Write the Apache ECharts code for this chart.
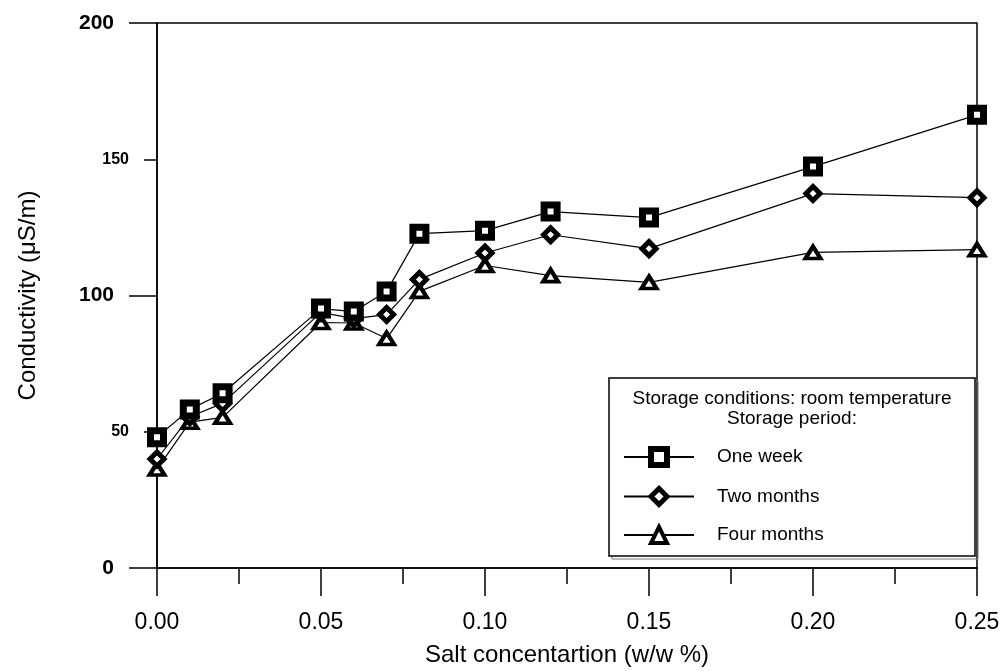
<!DOCTYPE html>
<html>
<head>
<meta charset="utf-8">
<script src="https://cdn.jsdelivr.net/npm/echarts@6/dist/echarts.min.js"></script>
<style>
  html, body { margin: 0; padding: 0; background: #fff; }
  #chart { width: 1003px; height: 671px; }
</style>
</head>
<body>
<div id="chart"></div>
<script>
// salt concentration (w/w %)
const saltConc = [0.00, 0.01, 0.02, 0.05, 0.06, 0.07, 0.08, 0.10, 0.12, 0.15, 0.20, 0.25];
// conductivity (uS/m) per storage period
const oneWeek    = [48.0, 58.2, 64.1, 95.2, 94.1, 101.5, 122.7, 123.8, 130.8, 128.6, 147.3, 166.3];
const twoMonths  = [40.0, 55.5, 60.4, 93.8, 91.5, 93.0, 105.9, 115.6, 122.3, 117.2, 137.4, 135.9];
const fourMonths = [36.3, 53.5, 55.3, 90.1, 89.9, 84.2, 101.5, 111.0, 107.3, 104.8, 115.8, 116.8];
const seriesNames = ['One week', 'Two months', 'Four months'];
const legendBorders = [6, 5, 4];
const yMajorLabels = [0, 100, 200];

const FONT = 'Liberation Sans, Arial, sans-serif';
const chart = echarts.init(document.getElementById('chart'));

function pairs(ys) {
  return saltConc.map((x, i) => [x, ys[i]]);
}

function lineSeries(name, ys, symbol, size, border) {
  return {
    name: name,
    type: 'line',
    data: pairs(ys),
    symbol: symbol,
    symbolSize: size,
    showAllSymbol: true,
    lineStyle: { color: '#000', width: 1.2 },
    itemStyle: { color: '#fff', borderColor: '#000', borderWidth: border },
    emphasis: { disabled: true },
    animation: false
  };
}

const option = {
  backgroundColor: '#fff',
  animation: false,
  textStyle: { fontFamily: FONT, color: '#000' },
  grid: {
    left: 157, right: 26, top: 23, bottom: 103,
    show: true, borderColor: '#000', borderWidth: 1.5,
    outerBoundsMode: 'none'
  },
  xAxis: {
    type: 'value',
    min: 0, max: 0.25, interval: 0.05,
    name: 'Salt concentartion (w/w %)',
    nameLocation: 'middle',
    nameGap: 75,
    nameTextStyle: { fontSize: 24, color: '#000', fontFamily: FONT },
    axisLine: { onZero: false, lineStyle: { color: '#000', width: 1.5 } },
    axisTick: { length: 28, lineStyle: { color: '#000', width: 1.5 } },
    minorTick: { show: true, splitNumber: 2, length: 16, lineStyle: { color: '#000', width: 1.5 } },
    axisLabel: { margin: 43, fontSize: 23, color: '#000', formatter: v => v.toFixed(2) },
    splitLine: { show: false },
    minorSplitLine: { show: false }
  },
  yAxis: [{
    type: 'value',
    min: 0, max: 200, interval: 50,
    position: 'left',
    name: 'Conductivity (μS/m)',
    nameLocation: 'middle',
    nameGap: 117,
    nameTextStyle: { fontSize: 24, color: '#000', fontFamily: FONT },
    axisLine: { onZero: false, lineStyle: { color: '#000', width: 1.5 } },
    axisTick: { length: 13, lineStyle: { color: '#000', width: 1.5 } },
    axisLabel: {
      margin: 28,
      color: '#000',
      formatter: v => (yMajorLabels.indexOf(v) >= 0 ? '{b|' + v + '}' : '{s|' + v + '}'),
      rich: {
        b: { fontSize: 21, fontWeight: 'bold', color: '#000', padding: [0, 15, 0, 0], fontFamily: FONT },
        s: { fontSize: 16, fontWeight: 'bold', color: '#000', fontFamily: FONT }
      }
    },
    splitLine: { show: false }
  }, {
    type: 'value',
    min: 0, max: 200, interval: 100,
    position: 'left',
    axisLine: { show: false },
    axisTick: { length: 28, lineStyle: { color: '#000', width: 1.5 } },
    axisLabel: { show: false },
    splitLine: { show: false }
  }],
  legend: {
    orient: 'vertical',
    left: 623, top: 446,
    padding: 0,
    itemWidth: 70, itemHeight: 20, itemGap: 18,
    data: seriesNames.map((n, i) => ({
      name: n,
      itemStyle: { color: '#fff', borderColor: '#000', borderWidth: legendBorders[i] }
    })),
    textStyle: { fontSize: 19, color: '#000', padding: [0, 0, 0, 18], fontFamily: FONT },
    selectedMode: false
  },
  graphic: [
    { type: 'rect', z: 1, shape: { x: 612, y: 381, width: 366, height: 178 },
      style: { fill: 'none', stroke: '#777', lineWidth: 1 } },
    { type: 'rect', z: 2, shape: { x: 609, y: 378, width: 366, height: 178 },
      style: { fill: '#fff', stroke: '#000', lineWidth: 1.5 } },
    { type: 'text', z: 3,
      style: { x: 792, y: 399, text: 'Storage conditions: room temperature', font: '19px ' + FONT,
               fill: '#000', textAlign: 'center', textVerticalAlign: 'middle' } },
    { type: 'text', z: 3,
      style: { x: 792, y: 419, text: 'Storage period:', font: '19px ' + FONT,
               fill: '#000', textAlign: 'center', textVerticalAlign: 'middle' } }
  ],
  series: [
    lineSeries('Four months', fourMonths, 'triangle', [15, 12], 4),
    lineSeries('Two months', twoMonths, 'diamond', 14, 5),
    lineSeries('One week', oneWeek, 'rect', 13, 7)
  ]
};

chart.setOption(option);
</script>
</body>
</html>
